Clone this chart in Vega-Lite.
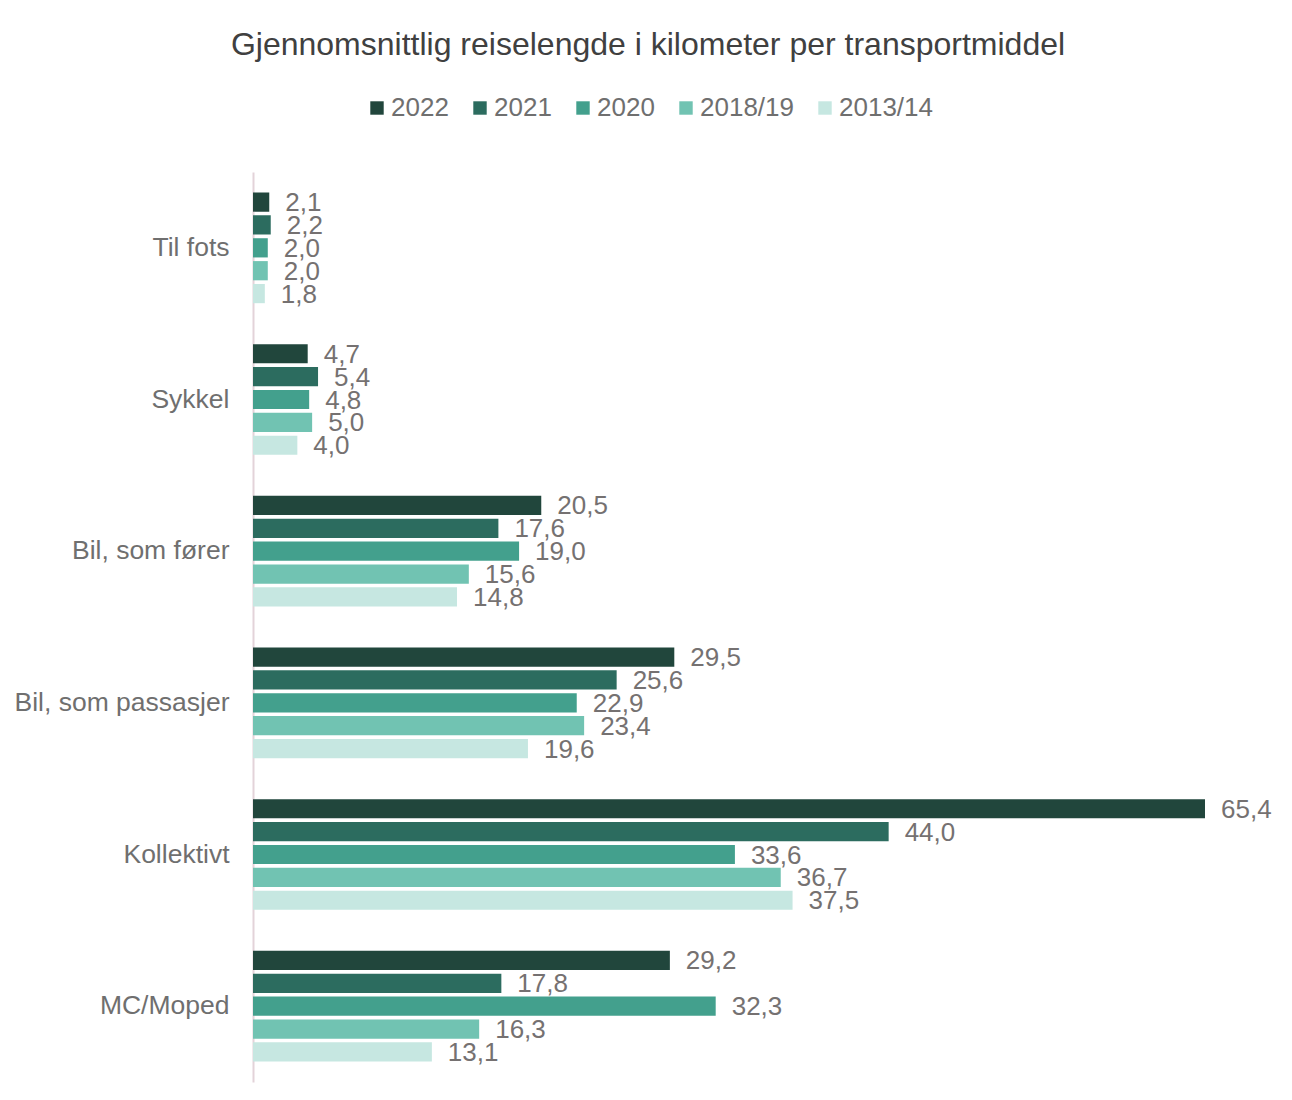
{
  "$schema": "https://vega.github.io/schema/vega-lite/v6.json",
  "width": 952,
  "height": 910,
  "autosize": {"type": "none"},
  "padding": {"left": 253, "top": 172, "right": 87, "bottom": 18},
  "background": "white",
  "title": {
    "text": "Gjennomsnittlig reiselengde i kilometer per transportmiddel",
    "anchor": "middle",
    "dx": -81,
    "offset": 33,
    "font": "Liberation Sans",
    "fontSize": 32,
    "fontWeight": "normal",
    "color": "#404040"
  },
  "data": {
    "values": [
      {"cat": "Til fots", "year": "2022", "value": 2.1},
      {"cat": "Til fots", "year": "2021", "value": 2.2},
      {"cat": "Til fots", "year": "2020", "value": 2.0},
      {"cat": "Til fots", "year": "2018/19", "value": 2.0},
      {"cat": "Til fots", "year": "2013/14", "value": 1.8},
      {"cat": "Sykkel", "year": "2022", "value": 4.7},
      {"cat": "Sykkel", "year": "2021", "value": 5.4},
      {"cat": "Sykkel", "year": "2020", "value": 4.8},
      {"cat": "Sykkel", "year": "2018/19", "value": 5.0},
      {"cat": "Sykkel", "year": "2013/14", "value": 4.0},
      {"cat": "Bil, som fører", "year": "2022", "value": 20.5},
      {"cat": "Bil, som fører", "year": "2021", "value": 17.6},
      {"cat": "Bil, som fører", "year": "2020", "value": 19.0},
      {"cat": "Bil, som fører", "year": "2018/19", "value": 15.6},
      {"cat": "Bil, som fører", "year": "2013/14", "value": 14.8},
      {"cat": "Bil, som passasjer", "year": "2022", "value": 29.5},
      {"cat": "Bil, som passasjer", "year": "2021", "value": 25.6},
      {"cat": "Bil, som passasjer", "year": "2020", "value": 22.9},
      {"cat": "Bil, som passasjer", "year": "2018/19", "value": 23.4},
      {"cat": "Bil, som passasjer", "year": "2013/14", "value": 19.6},
      {"cat": "Kollektivt", "year": "2022", "value": 65.4},
      {"cat": "Kollektivt", "year": "2021", "value": 44.0},
      {"cat": "Kollektivt", "year": "2020", "value": 33.6},
      {"cat": "Kollektivt", "year": "2018/19", "value": 36.7},
      {"cat": "Kollektivt", "year": "2013/14", "value": 37.5},
      {"cat": "MC/Moped", "year": "2022", "value": 29.2},
      {"cat": "MC/Moped", "year": "2021", "value": 17.8},
      {"cat": "MC/Moped", "year": "2020", "value": 32.3},
      {"cat": "MC/Moped", "year": "2018/19", "value": 16.3},
      {"cat": "MC/Moped", "year": "2013/14", "value": 13.1}
    ]
  },
  "encoding": {
    "y": {
      "field": "cat",
      "type": "nominal",
      "sort": null,
      "scale": {"paddingInner": 0.27, "paddingOuter": 0.135},
      "axis": {
        "title": null,
        "ticks": false,
        "labelFont": "Liberation Sans",
        "labelFontSize": 26.5,
        "labelColor": "#6f6f6f",
        "labelPadding": 24,
        "labelLimit": 0,
        "domainColor": "#e3d3d9",
        "domainWidth": 2
      }
    },
    "yOffset": {
      "field": "year",
      "type": "nominal",
      "sort": ["2022", "2021", "2020", "2018/19", "2013/14"],
      "scale": {"paddingInner": 0.16}
    },
    "x": {
      "field": "value",
      "type": "quantitative",
      "scale": {"domain": [1.0, 65.4], "nice": false, "zero": false},
      "axis": null
    }
  },
  "layer": [
    {
      "mark": {"type": "bar", "clip": true},
      "encoding": {
        "color": {
          "field": "year",
          "type": "nominal",
          "sort": ["2022", "2021", "2020", "2018/19", "2013/14"],
          "scale": {
            "domain": ["2022", "2021", "2020", "2018/19", "2013/14"],
            "range": ["#21463c", "#2c6c5f", "#43a08d", "#71c3b2", "#c6e7e1"]
          },
          "legend": {
            "title": null,
            "orient": "none",
            "direction": "horizontal",
            "legendX": 111,
            "legendY": -77,
            "symbolType": "square",
            "symbolSize": 180,
            "symbolStrokeWidth": 0,
            "labelFont": "Liberation Sans",
            "labelFontSize": 26,
            "labelColor": "#6f6f6f",
            "labelOffset": 1,
            "columnPadding": 18
          }
        }
      }
    },
    {
      "mark": {
        "type": "text",
        "align": "left",
        "baseline": "middle",
        "dx": 16,
        "dy": 1,
        "font": "Liberation Sans",
        "fontSize": 26,
        "color": "#757171"
      },
      "encoding": {
        "text": {"field": "value", "type": "quantitative", "format": ".1f"}
      }
    }
  ],
  "config": {
    "view": {"stroke": null},
    "locale": {
      "number": {
        "decimal": ",",
        "thousands": " ",
        "grouping": [3],
        "currency": ["", " kr"]
      }
    }
  }
}
